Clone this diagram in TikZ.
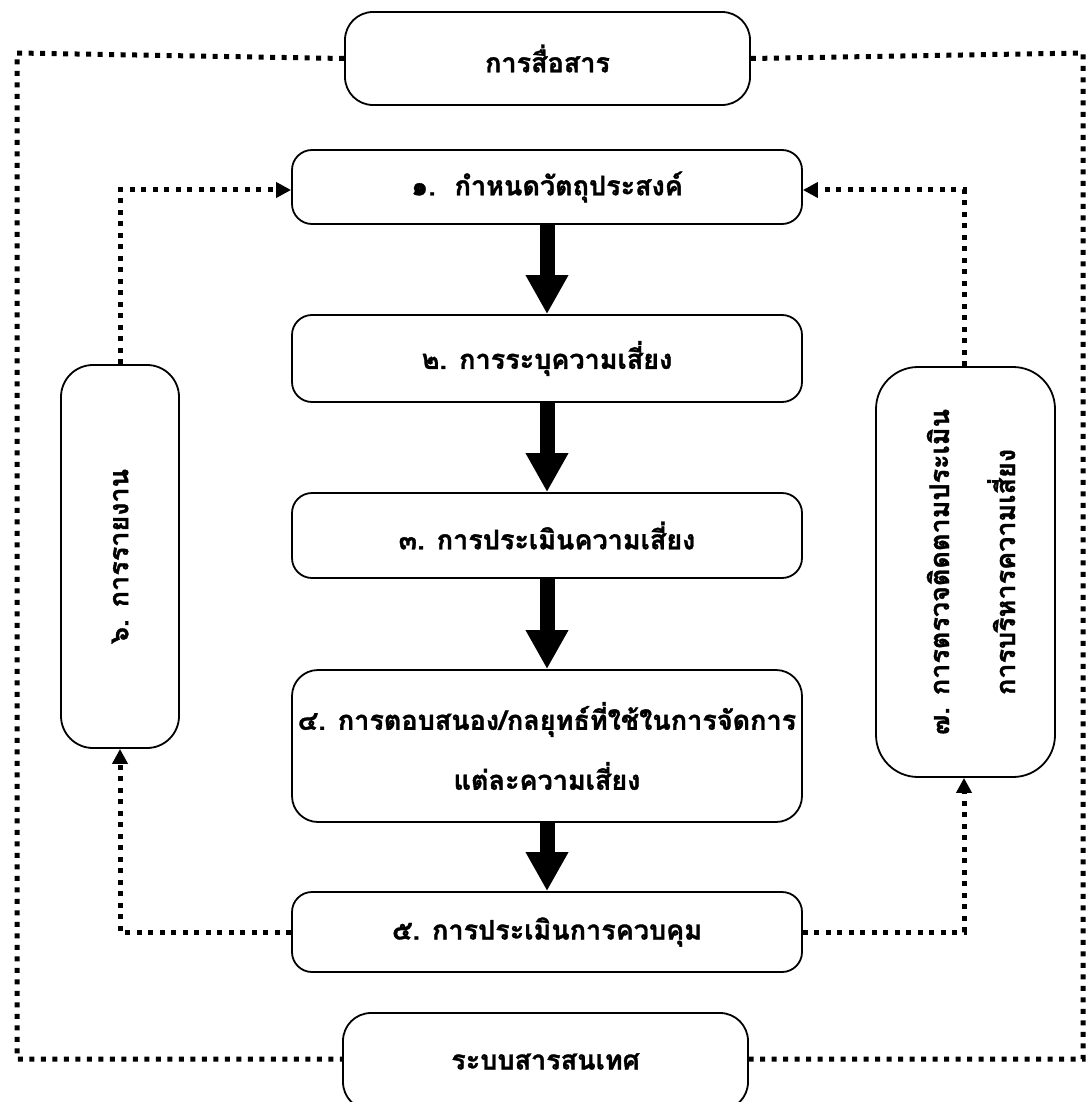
\documentclass[tikz,border=0pt]{standalone}
\usepackage{fontspec}
\newfontfamily\thaifont[Script=Thai,BoldFeatures={FakeBold=1.2}]{Loma}
\usetikzlibrary{arrows.meta}
\begin{document}
\begin{tikzpicture}[x=1pt,y=-1pt,
  thaitext/.style={font=\thaifont\bfseries\fontsize{27}{60}\selectfont},
  box/.style={draw=black,line width=1.8pt,rounded corners=#1,inner sep=0pt,align=center,thaitext},
  box/.default=22pt,
  dotline/.style={line width=5pt,dash pattern=on 5pt off 6.5pt},
  dotarrow/.style={dotline,-{Triangle[length=15pt,width=15pt]}},
  bigarrow/.style={line width=15pt,-{Triangle[length=39pt,width=40pt]}}
]
\useasboundingbox (0,0) rectangle (1087,1102);
% outer frame corners
\coordinate (tl) at (17,53);
\coordinate (tr) at (1083,53);
\coordinate (bl) at (17,1059);
\coordinate (br) at (1083,1059);
\coordinate (lu) at (120,190);
\coordinate (ld) at (120,932);
\coordinate (ru) at (964,190);
\coordinate (rd) at (964,932);

\node[box=28pt,minimum width=405pt,minimum height=93pt] (com) at (547.5,58.5) {การสื่อสาร};
\node[box=20pt,minimum width=510pt,minimum height=74pt] (b1) at (547,187) {๑.\hspace{0.7em}กำหนดวัตถุประสงค์};
\node[box=20pt,minimum width=510pt,minimum height=87pt] (b2) at (547,358.5) {๒. การระบุความเสี่ยง};
\node[box=20pt,minimum width=510pt,minimum height=85pt] (b3) at (547,535.5) {๓. การประเมินความเสี่ยง};
\node[box=26pt,minimum width=510pt,minimum height=152pt] (b4) at (547,746) {๔. การตอบสนอง/กลยุทธ์ที่ใช้ในการจัดการ\\แต่ละความเสี่ยง};
\node[box=20pt,minimum width=510pt,minimum height=80pt] (b5) at (547,932) {๕. การประเมินการควบคุม};
\node[box=28pt,minimum width=405pt,minimum height=97pt] (inf) at (545.5,1061.5) {ระบบสารสนเทศ};
\node[box=32pt,minimum width=118pt,minimum height=383pt] (b6) at (120,556.5) {};
\node[rotate=90,thaitext] (t6) at (b6.center) {๖. การรายงาน};
\node[box=42pt,minimum width=179pt,minimum height=410pt] (b7) at (965.5,572) {};
\node[rotate=90,align=center,thaitext,font=\thaifont\bfseries\fontsize{27}{66}\selectfont] (t7) at (971,572) {๗. การตรวจติดตามประเมิน\\การบริหารความเสี่ยง};

% thick arrows
\draw[bigarrow] (b1.south) -- (b2.north);
\draw[bigarrow] (b2.south) -- (b3.north);
\draw[bigarrow] (b3.south) -- (b4.north);
\draw[bigarrow] (b4.south) -- (b5.north);

% outer frame
\draw[dotline] (com.west) -- (tl) -- (bl) -- (inf.west |- bl);
\draw[dotline] (com.east) -- (tr) -- (br) -- (inf.east |- br);

% feedback loops
\draw[dotarrow] (b6.north) -- (lu) -- (b1.west |- lu);
\draw[dotarrow] (b5.west) -- (ld) -- (b6.south);
\draw[dotarrow] (b7.north -| ru) -- (ru) -- (b1.east |- ru);
\draw[dotarrow] (b5.east) -- (rd) -- (b7.south -| rd);
\end{tikzpicture}
\end{document}
